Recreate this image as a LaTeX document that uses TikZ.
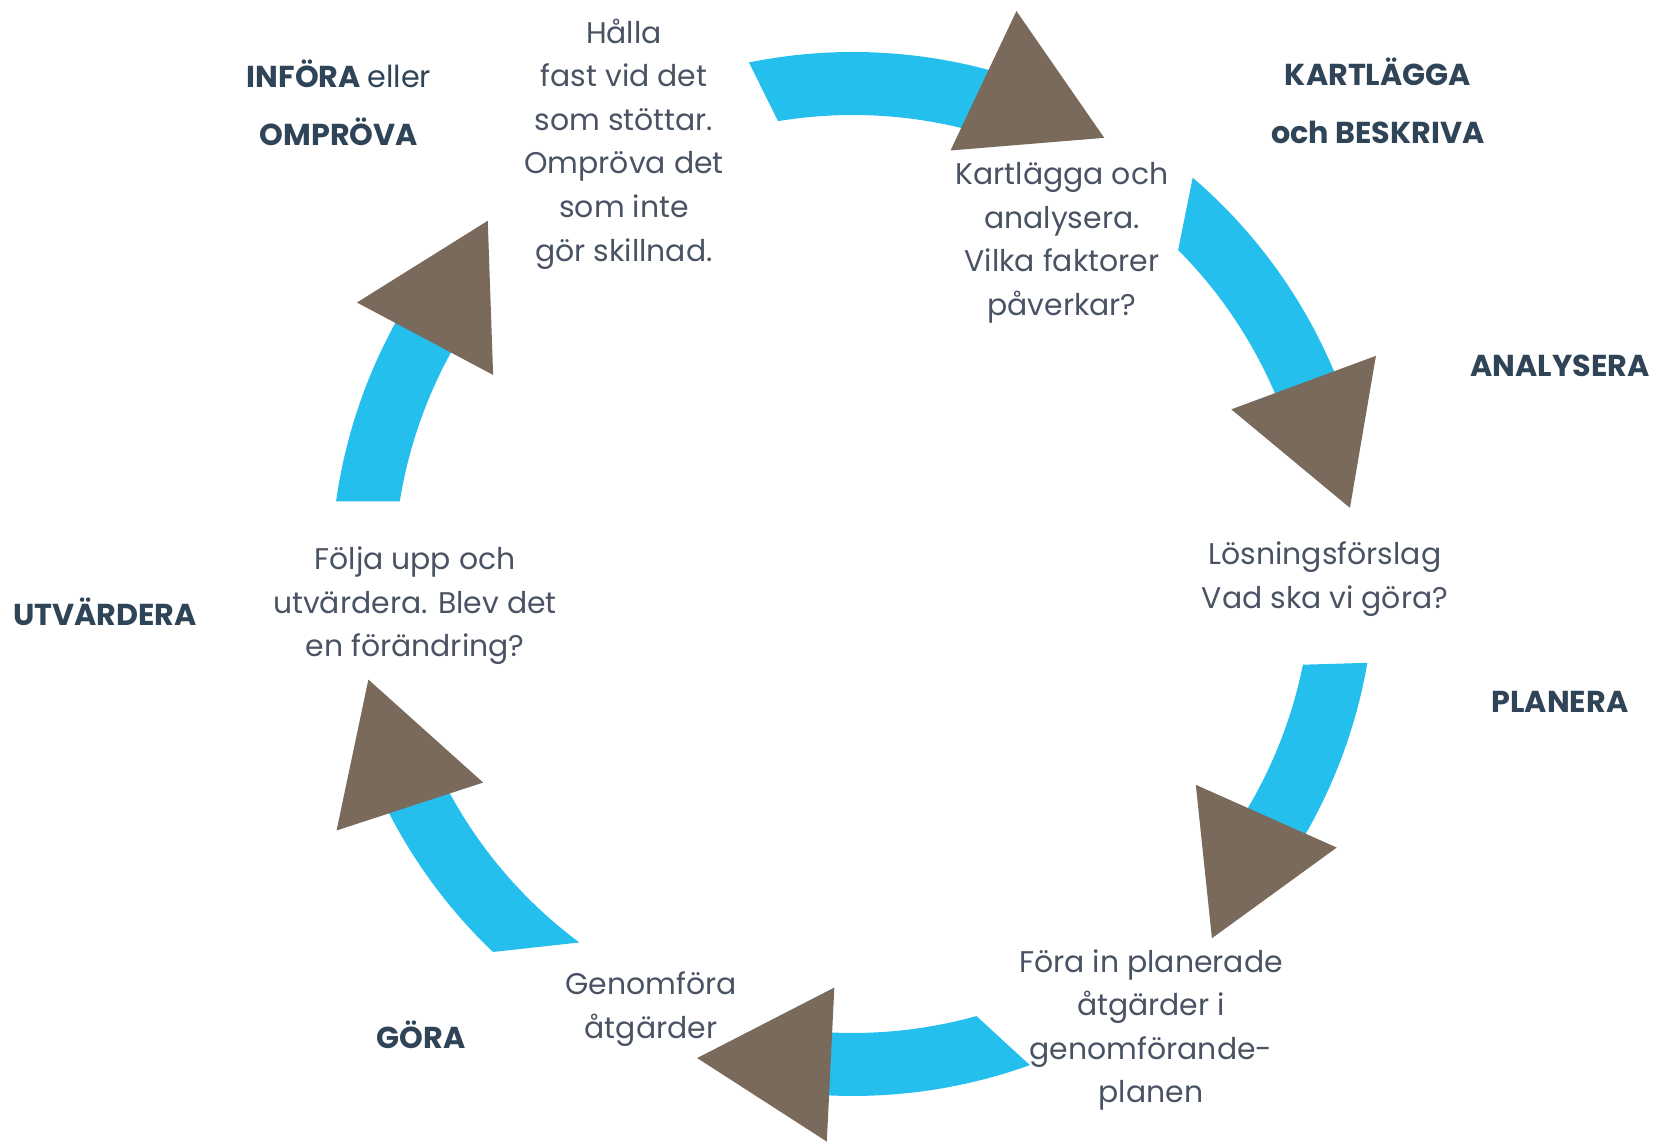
\documentclass[tikz,border=0pt]{standalone}
\usepackage{fontspec}
\setmainfont{Poppins}
\usepackage{xcolor}
\usetikzlibrary{shapes.geometric}

\definecolor{bandblue}{HTML}{25BFEE}
\definecolor{headbrown}{HTML}{7A6A5C}
\definecolor{bodyink}{HTML}{4A5364}
\definecolor{phaseink}{HTML}{2F4457}

\begin{document}
\begin{tikzpicture}[
    x=0.01cm,
    y=0.01cm,
    band/.style = {
        fill=bandblue
    },
    arrowhead/.style = {
        regular polygon,
        regular polygon sides=3,
        fill=headbrown,
        inner sep=0pt,
        outer sep=0pt,
        minimum size=1.78cm
    },
    stepnote/.style = {
        align=center,
        text=bodyink,
        inner sep=0pt,
        font=\fontsize{8.5}{12.4}\selectfont
    },
    phase/.style = {
        align=center,
        text=phaseink,
        inner sep=0pt,
        font=\fontsize{8.6}{16.5}\selectfont\bfseries
    },
]
    \def\outerr{522}
    \def\innerr{459}

    \useasboundingbox (0,0) rectangle (1660,1143);
    \coordinate (hub) at (853,569);

    \begin{scope}[shift={(hub)}]
        % Bands, clockwise
        \fill [band] (101.5:\outerr) arc [start angle=101.5, end angle=73.2, radius=\outerr]
            -- (73.2:\innerr) arc [start angle=73.2, end angle=99.4, radius=\innerr] -- cycle;
        \fill [band] (49.4:\outerr) arc [start angle=49.4, end angle=20.8, radius=\outerr]
            -- (20.8:\innerr) arc [start angle=20.8, end angle=44.9, radius=\innerr] -- cycle;
        \fill [band] (-9.8:\outerr) arc [start angle=-9.8, end angle=-32.6, radius=\outerr]
            -- (-32.6:\innerr) arc [start angle=-32.6, end angle=-11.4, radius=\innerr] -- cycle;
        \fill [band] (-70.2:\outerr) arc [start angle=-70.2, end angle=-94.8, radius=\outerr]
            -- (-94.8:\innerr) arc [start angle=-94.8, end angle=-74.4, radius=\innerr] -- cycle;
        \fill [band] (226.4:\outerr) arc [start angle=226.4, end angle=205.6, radius=\outerr]
            -- (205.6:\innerr) arc [start angle=205.6, end angle=233.4, radius=\innerr] -- cycle;
        \fill [band] (172:\outerr) arc [start angle=172, end angle=149, radius=\outerr]
            -- (149:\innerr) arc [start angle=149, end angle=170.9, radius=\innerr] -- cycle;

        % Arrow heads
        \node [arrowhead, rotate=-115.3] (head_map) at (70.2:504) {};
        \node [arrowhead, rotate=-159.7] (head_analyse) at (17.8:489.5) {};
        \node [arrowhead, rotate=156] (head_plan) at (-35.6:486) {};
        \node [arrowhead, rotate=87.2] (head_do) at (-97.8:493) {};
        \node [arrowhead, rotate=18.1] (head_evaluate) at (202.6:495) {};
        \node [arrowhead, rotate=-28] (head_revise) at (146:491) {};
    \end{scope}

    \node [stepnote] (note_hold) at (624,999)
        {Hålla\\ fast vid det\\ som stöttar.\\ Ompröva det\\ som inte\\ gör skillnad.};
    \node [stepnote] (note_map) at (1062,900)
        {Kartlägga och\\ analysera.\\ Vilka faktorer\\ påverkar?};
    \node [stepnote] (note_solution) at (1325,564)
        {Lösningsförslag\\ Vad ska vi göra?};
    \node [stepnote] (note_plan) at (1151,113)
        {Föra in planerade\\ åtgärder i\\ genomförande-\\ planen};
    \node [stepnote] (note_do) at (651,134)
        {Genomföra\\ åtgärder};
    \node [stepnote] (note_followup) at (415,537)
        {Följa upp och\\ utvärdera. Blev det\\ en förändring?};

    \node [phase] (phase_revise) at (339,1040) {INFÖRA {\mdseries eller}\\ OMPRÖVA};
    \node [phase] (phase_map) at (1378,1042) {KARTLÄGGA\\ och BESKRIVA};
    \node [phase] (phase_analyse) at (1560,777) {ANALYSERA};
    \node [phase] (phase_plan) at (1560,441) {PLANERA};
    \node [phase] (phase_do) at (421,108) {GÖRA};
    \node [phase] (phase_evaluate) at (105,531) {UTVÄRDERA};
\end{tikzpicture}
\end{document}
